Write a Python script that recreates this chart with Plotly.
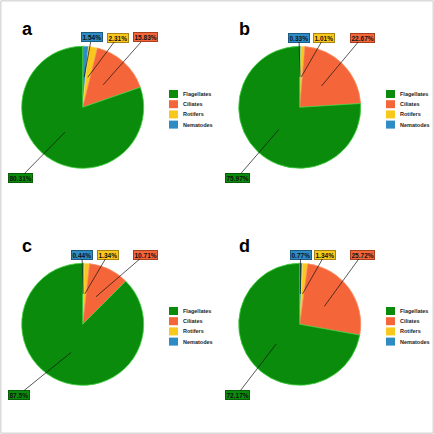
import math
import plotly.graph_objects as go

W = 434
H = 434

# data
panels = ['a', 'b', 'c', 'd']
groups = ['Flagellates', 'Ciliates', 'Rotifers', 'Nematodes']
vals_a = [80.31, 15.83, 2.31, 1.54]
vals_b = [75.97, 22.67, 1.01, 0.33]
vals_c = [87.5, 10.71, 1.34, 0.44]
vals_d = [72.17, 25.72, 1.34, 0.77]
label_a = ['80.31%', '15.83%', '2.31%', '1.54%']
label_b = ['75.97%', '22.67%', '1.01%', '0.33%']
label_c = ['87.5%', '10.71%', '1.34%', '0.44%']
label_d = ['72.17%', '25.72%', '1.34%', '0.77%']

colors = ['#0b8b0b', '#f4663a', '#f8c81c', '#2f8bc3']
edge = ['#3fd13f', '#ff8a5e', '#ffe066', '#5db3e6']
box_line = ['#075f07', '#a8401d', '#a88412', '#1d5a80']

all_vals = [vals_a, vals_b, vals_c, vals_d]
all_labels = [label_a, label_b, label_c, label_d]

# layout of each panel (pixels, relative to the panel's top-left corner)
offsets = [(0, 0), (217, 0), (0, 217), (217, 217)]
cx0, cy0, R = 82.7, 107.3, 61
# label box centres: flagellates bottom-left, others along the top
label_pos = [
    [(20, 178), (145, 37.5), (117.5, 37.5), (91.5, 37.5)],
    [(20, 178), (145, 37.5), (107, 37.5), (82, 37.5)],
    [(18.5, 178), (145, 37.5), (108, 37.5), (82, 37.5)],
    [(20, 178), (145, 37.5), (108, 37.5), (83.5, 37.5)],
]

def px(x):
    return x / W

def py(y):
    return 1 - y / H

fig = go.Figure()
annotations = []
shapes = []

for k, p in enumerate(panels):
    ox, oy = offsets[k]
    cx, cy = ox + cx0, oy + cy0
    vals = all_vals[k]
    # clockwise from 12 o'clock: nematodes, rotifers, ciliates, flagellates
    order = [3, 2, 1, 0]
    fig.add_trace(go.Pie(
        labels=[groups[i] for i in order], values=[vals[i] for i in order],
        sort=False, direction='clockwise', rotation=0,
        textinfo='none', hoverinfo='label+percent',
        marker=dict(colors=[colors[i] for i in order],
                    line=dict(color=[edge[i] for i in order], width=0.8)),
        domain=dict(x=[px(cx - R), px(cx + R)], y=[py(cy + R), py(cy - R)]),
        showlegend=False,
    ))

    # leader lines + labels
    tot = sum(vals)
    cum = 0
    for i in order:
        v = vals[i]
        mid = (cum + v / 2) / tot
        cum += v
        phi = 2 * math.pi * mid
        tx = cx + math.sin(phi) * 0.5 * R
        ty = cy - math.cos(phi) * 0.5 * R
        lx, ly = label_pos[k][i]
        lx += ox
        ly += oy
        annotations.append(dict(
            x=px(tx), y=py(ty), xref='paper', yref='paper',
            ax=lx - tx, ay=ly - ty, axref='pixel', ayref='pixel',
            text='<b>' + all_labels[k][i] + '</b>', showarrow=True,
            arrowhead=0, arrowwidth=0.7, arrowcolor='#111111',
            bgcolor=colors[i], bordercolor=box_line[i], borderwidth=1, borderpad=0.5,
            font=dict(family='Liberation Sans, Arial', size=6.5, color='#111111'),
        ))

    # panel letter
    annotations.append(dict(
        x=px(ox + 20), y=py(oy + 29), xref='paper', yref='paper',
        xanchor='left', yanchor='middle', showarrow=False,
        text='<b>' + p + '</b>',
        font=dict(family='Liberation Sans, Arial', size=18, color='#000000'),
    ))

    # legend
    for i, g in enumerate(groups):
        yc = oy + 94 + i * 10.2
        shapes.append(dict(
            type='rect', xref='paper', yref='paper',
            x0=px(ox + 169), x1=px(ox + 178), y0=py(yc + 4), y1=py(yc - 4),
            fillcolor=colors[i], line=dict(width=0),
        ))
        annotations.append(dict(
            x=px(ox + 180.5), y=py(yc), xref='paper', yref='paper',
            xanchor='left', yanchor='middle', showarrow=False,
            text='<b>' + g + '</b>',
            font=dict(family='Liberation Sans, Arial', size=5.5, color='#222222'),
        ))

# outer frame
shapes.append(dict(type='rect', xref='paper', yref='paper', x0=0.002, x1=0.998, y0=0.002, y1=0.998,
                   line=dict(color='#c8c8c8', width=1)))

fig.update_layout(
    width=W, height=H,
    margin=dict(l=0, r=0, t=0, b=0),
    paper_bgcolor='white', plot_bgcolor='white',
    annotations=annotations, shapes=shapes,
    showlegend=False,
)

fig.write_html('out.html', config={'displayModeBar': False},
               post_script="document.body.style.margin='0';")
